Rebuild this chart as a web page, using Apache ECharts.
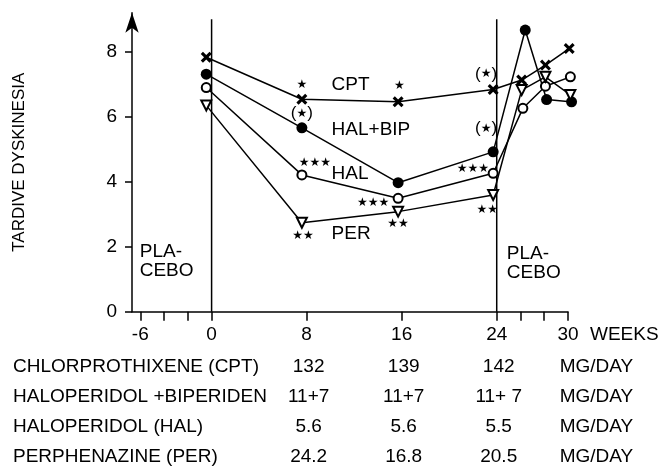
<!DOCTYPE html>
<html>
<head>
<meta charset="utf-8">
<script src="https://cdn.jsdelivr.net/npm/echarts@6/dist/echarts.min.js"></script>
<style>
html, body { margin: 0; padding: 0; background: #fff; }
#chart { width: 660px; height: 475px; }
</style>
</head>
<body>
<div id="chart"></div>
<script>
var FONT = '"Liberation Sans", Arial, Helvetica, sans-serif';
var STARFONT = '"DejaVu Sans", sans-serif';

// [week, score]
var cptData    = [[-0.45, 7.83], [7.6, 6.54], [15.7, 6.46], [23.7, 6.84], [26.1, 7.13], [28.1, 7.59], [30.1, 8.10]];
var halBipData = [[-0.45, 7.31], [7.6, 5.66], [15.7, 3.97], [23.7, 4.92], [26.4, 8.67], [28.2, 6.53], [30.3, 6.46]];
var halData    = [[-0.45, 6.90], [7.6, 4.21], [15.7, 3.49], [23.7, 4.26], [26.2, 6.26], [28.1, 6.94], [30.2, 7.23]];
var perData    = [[-0.45, 6.35], [7.6, 2.74], [15.7, 3.08], [23.7, 3.59], [26.1, 6.82], [28.1, 7.23], [30.2, 6.67]];

// significance stars [week, score, text]
var starNotes = [
    [7.6, 6.98, '★'], [7.6, 6.10, '(★)'], [15.8, 6.94, '★'], [23.1, 7.31, '(★)'],
    [23.1, 5.64, '(★)'], [8.7, 4.58, '★★★'], [13.6, 3.35, '★★★'], [22.0, 4.41, '★★★'],
    [7.7, 2.33, '★★'], [15.7, 2.70, '★★'], [23.2, 3.13, '★★']
];
// text labels inside the plot [week, score, text]
var groupNames = [
    [10.1, 6.98, 'CPT'], [10.1, 5.59, 'HAL+BIP'], [10.1, 4.25, 'HAL'], [10.1, 2.41, 'PER'],
    [-6.05, 1.56, 'PLA-\nCEBO'], [24.85, 1.50, 'PLA-\nCEBO']
];

var xTickWeeks = [-6, -4, -2, 0, 8, 16, 24, 26, 28, 30];
var xLabelWeeks = [-6, 0, 8, 16, 24, 30];
var yTicks = [0, 2, 4, 6, 8];
var placeboWeeks = [0, 24];
var placeboLineTop = 9;

// dose table
var doseWeeks = [8, 16, 24];
var drugNames = ['CHLORPROTHIXENE (CPT)', 'HALOPERIDOL +BIPERIDEN', 'HALOPERIDOL (HAL)', 'PERPHENAZINE (PER)'];
var doseCPT = ['132', '139', '142'];
var doseHalBip = ['11+7', '11+7', '11+ 7'];
var doseHal = ['5.6', '5.6', '5.5'];
var dosePer = ['24.2', '16.8', '20.5'];
var doseRows = [doseCPT, doseHalBip, doseHal, dosePer];
var doseUnit = 'MG/DAY';

var crossPath = 'path://M2,0L5,3L8,0L10,2L7,5L10,8L8,10L5,7L2,10L0,8L3,5L0,2Z';

function lineSeries(name, data, symbol, size, fill, extra) {
    var s = {
        name: name,
        type: 'line',
        data: data,
        clip: false,
        symbol: symbol,
        symbolSize: size,
        showAllSymbol: true,
        lineStyle: { color: '#000', width: 1.5 },
        itemStyle: { color: fill, borderColor: '#000', borderWidth: fill === '#fff' ? 2 : 0 },
        z: 3
    };
    for (var k in extra) s[k] = extra[k];
    return s;
}

var labelBase = { color: '#000', textBorderWidth: 0, textBorderColor: 'transparent', opacity: 1 };

var series = [
    lineSeries('CPT', cptData, crossPath, 11, '#000', {}),
    lineSeries('HAL+BIP', halBipData, 'circle', 11, '#000', {}),
    lineSeries('HAL', halData, 'circle', 9, '#fff', {}),
    lineSeries('PER', perData, 'triangle', 10, '#fff', { symbolRotate: 180 }),
    {
        type: 'scatter',
        data: starNotes,
        symbolSize: 0,
        clip: false,
        silent: true,
        label: Object.assign({
            show: true,
            position: 'inside',
            formatter: function (p) {
                var t = p.value[2];
                if (t.charAt(0) === '(') return '{p|(}{s|★}{p|)}';
                return '{s|' + t + '}';
            },
            rich: {
                p: { fontSize: 17, fontFamily: FONT, color: '#000' },
                s: { fontSize: 12, fontFamily: STARFONT, color: '#000' }
            }
        }, labelBase),
        z: 5
    },
    {
        type: 'scatter',
        data: groupNames,
        symbolSize: 0,
        clip: false,
        silent: true,
        label: Object.assign({
            show: true,
            position: 'inside',
            align: 'left',
            verticalAlign: 'middle',
            fontSize: 19,
            lineHeight: 19,
            fontFamily: FONT,
            formatter: function (p) { return p.value[2]; }
        }, labelBase),
        z: 5
    }
];

// vertical placebo boundaries
placeboWeeks.forEach(function (w) {
    series.push({
        type: 'line',
        data: [[w, 0], [w, placeboLineTop]],
        clip: false,
        silent: true,
        symbol: 'none',
        lineStyle: { color: '#000', width: 1.5 },
        z: 2
    });
});

var option = {
    backgroundColor: '#fff',
    animation: false,
    textStyle: { fontFamily: FONT, color: '#000' },
    grid: { left: 132, right: 92, top: 12.8, bottom: 163.3 },
    xAxis: {
        type: 'value',
        min: -6.7,
        max: 30,
        axisLine: { onZero: false, lineStyle: { color: '#000', width: 1.5 } },
        axisTick: { show: true, length: 9, inside: false, customValues: xTickWeeks, lineStyle: { color: '#000', width: 1.5 } },
        axisLabel: { customValues: xLabelWeeks, fontSize: 19, color: '#000', margin: 14, fontFamily: FONT },
        splitLine: { show: false }
    },
    yAxis: {
        type: 'value',
        min: 0,
        max: 9.2,
        name: 'TARDIVE DYSKINESIA',
        nameLocation: 'middle',
        nameRotate: 90,
        nameGap: 104,
        nameTextStyle: { fontSize: 17, color: '#000', fontFamily: FONT },
        axisLine: { show: true, onZero: false, symbol: ['none', 'arrow'], symbolSize: [10, 20], lineStyle: { color: '#000', width: 1.5 } },
        axisTick: { show: true, length: 7, customValues: yTicks, lineStyle: { color: '#000', width: 1.5 } },
        axisLabel: { customValues: yTicks, fontSize: 19, color: '#000', margin: 15, fontFamily: FONT },
        splitLine: { show: false }
    },
    series: series
};

var chart = echarts.init(document.getElementById('chart'));
chart.setOption(option);

// dose table under the axis, columns follow the week scale
var rowY = [367, 397, 427, 457];
var unitX = chart.convertToPixel({ xAxisIndex: 0 }, 29.3);
var tableGraphics = [{
    type: 'text', x: 590, y: 335,
    style: { text: 'WEEKS', fontSize: 19, fontFamily: FONT, fill: '#000', align: 'left', verticalAlign: 'middle' }
}];
drugNames.forEach(function (name, i) {
    tableGraphics.push({
        type: 'text', x: 13, y: rowY[i],
        style: { text: name, fontSize: 19, fontFamily: FONT, fill: '#000', align: 'left', verticalAlign: 'middle' }
    });
    doseWeeks.forEach(function (w, j) {
        var cx = chart.convertToPixel({ xAxisIndex: 0 }, w) + 2;
        tableGraphics.push({
            type: 'text', x: cx, y: rowY[i],
            style: { text: doseRows[i][j], fontSize: 19, fontFamily: FONT, fill: '#000', align: 'center', verticalAlign: 'middle' }
        });
    });
    tableGraphics.push({
        type: 'text', x: unitX, y: rowY[i],
        style: { text: doseUnit, fontSize: 19, fontFamily: FONT, fill: '#000', align: 'left', verticalAlign: 'middle' }
    });
});
chart.setOption({ graphic: tableGraphics });
</script>
</body>
</html>
